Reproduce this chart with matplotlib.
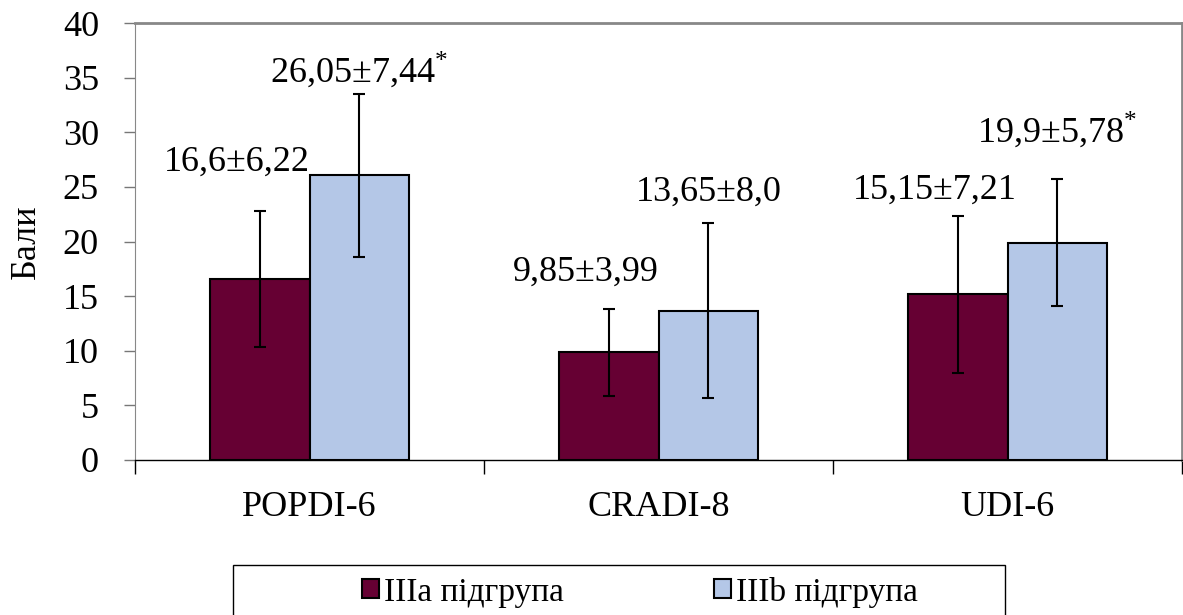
import matplotlib.pyplot as plt
import matplotlib.patches as mpatches
import numpy as np

plt.rcParams['font.family'] = ['Liberation Serif', 'DejaVu Serif']
plt.rcParams['mathtext.fontset'] = 'custom'
plt.rcParams['mathtext.rm'] = 'Liberation Serif'

# дані
categories = ['POPDI-6', 'CRADI-8', 'UDI-6']
groups = ['IIIa підгрупа', 'IIIb підгрупа']
mean_a = [16.6, 9.85, 15.15]
sd_a = [6.22, 3.99, 7.21]
mean_b = [26.05, 13.65, 19.9]
sd_b = [7.44, 8.0, 5.78]
labels_a = ['16,6±6,22', '9,85±3,99', '15,15±7,21']
labels_b = ['26,05±7,44$^{*}$', '13,65±8,0', '19,9±5,78$^{*}$']
label_y_a = [27.3, 17.2, 24.7]
label_y_b = [35.7, 24.5, 30.2]

color_a = '#660033'
color_b = '#B4C7E7'
fs = 26

fig = plt.figure(figsize=(11.83, 6.15), dpi=100)
ax = fig.add_axes([135 / 1183, 1 - 460 / 615, 1047 / 1183, 437 / 615])

x = np.arange(len(categories))
w = 0.2865
err_kw = dict(ecolor='black', elinewidth=1.5, capsize=4.5, capthick=1.5)
ax.bar(x - w / 2, mean_a, w, yerr=sd_a, color=color_a, edgecolor='black',
       linewidth=1.5, error_kw=err_kw, label=groups[0], zorder=2)
ax.bar(x + w / 2, mean_b, w, yerr=sd_b, color=color_b, edgecolor='black',
       linewidth=1.5, error_kw=err_kw, label=groups[1], zorder=2)

for i in range(len(categories)):
    ax.text(x[i] - w / 2 - 0.065, label_y_a[i], labels_a[i], ha='center', va='center', fontsize=fs)
    ax.text(x[i] + w / 2 + 0.0, label_y_b[i], labels_b[i], ha='center', va='center', fontsize=fs)

ax.set_xlim(-0.5, 2.5)
ax.set_ylim(0, 40)
ax.set_yticks(range(0, 41, 5))
ax.set_xticks(x)
ax.set_xticklabels(categories, fontsize=fs)
ax.set_xticks([-0.5, 0.5, 1.5, 2.5], minor=True)
ax.tick_params(axis='x', which='major', length=0, pad=22)
ax.tick_params(axis='x', which='minor', length=10, width=1, color='black')
ax.tick_params(axis='y', labelsize=fs, length=8, width=1, color='#777777', pad=18)
ax.set_ylabel('Бали', fontsize=fs, labelpad=14)

for s in ['top', 'right']:
    ax.spines[s].set_color('#888888')
    ax.spines[s].set_linewidth(2)
ax.spines['left'].set_color('#888888')
ax.spines['left'].set_linestyle((0, (1, 1)))
ax.spines['bottom'].set_color('black')
ax.spines['bottom'].set_linewidth(1)

# рамка легенди
fig.patches.append(mpatches.Rectangle((233 / 1183, 1 - 640 / 615), 772 / 1183, 75 / 615,
                                      transform=fig.transFigure, facecolor='none',
                                      edgecolor='black', linewidth=1))
fig.legend(loc='center', bbox_to_anchor=(640 / 1183, 1 - 592 / 615), ncol=2,
           frameon=False, fontsize=24, handlelength=0.5, handleheight=0.5,
           handletextpad=0.15, columnspacing=4.5)

fig.savefig('out.png', dpi=100)
